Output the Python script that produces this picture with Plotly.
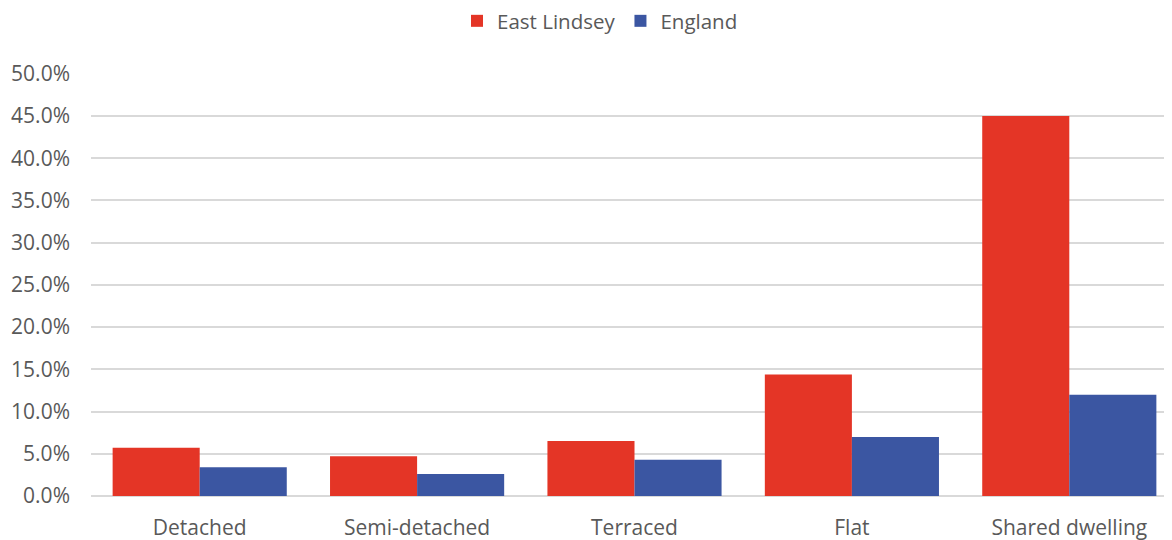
import plotly.graph_objects as go

categories = ["Detached", "Semi-detached", "Terraced", "Flat", "Shared dwelling"]
east_lindsey = [0.057, 0.047, 0.065, 0.144, 0.450]
england = [0.034, 0.026, 0.043, 0.070, 0.120]
tick_vals = [0, 0.05, 0.10, 0.15, 0.20, 0.25, 0.30, 0.35, 0.40, 0.45, 0.50]
tick_text = ["0.0%", "5.0%", "10.0%", "15.0%", "20.0%", "25.0%", "30.0%", "35.0%", "40.0%", "45.0%", "50.0%"]

font_family = "Open Sans, Liberation Sans, sans-serif"
grey = "#595959"

# page body has an 8px default margin; the plot area runs slightly past the right window edge
W, H = 1170, 532

fig = go.Figure()
fig.add_trace(go.Bar(name="East Lindsey", x=categories, y=east_lindsey,
                     marker=dict(color="#E43526", line=dict(width=0))))
fig.add_trace(go.Bar(name="England", x=categories, y=england,
                     marker=dict(color="#3B56A2", line=dict(width=0))))

fig.update_layout(
    width=W, height=H,
    barmode="group", bargap=0.199, bargroupgap=0,
    plot_bgcolor="white", paper_bgcolor="white",
    margin=dict(l=83, r=0, t=65, b=44, autoexpand=False),
    font=dict(family=font_family, size=21, color=grey),
    legend=dict(orientation="h", x=(595 - 3) / W, xanchor="center", xref="container",
                y=1 - 13 / H, yanchor="middle", yref="container",
                font=dict(size=20.5, color=grey), itemwidth=30, traceorder="normal"),
    showlegend=True,
)
fig.update_yaxes(range=[0, 0.501], tickvals=tick_vals, ticktext=tick_text,
                 automargin=False,
                 showgrid=True, gridcolor="#D9D9D9", gridwidth=1.5,
                 zeroline=True, zerolinecolor="#D9D9D9", zerolinewidth=1.5,
                 showline=False, ticks="", ticklabelstandoff=20,
                 tickfont=dict(size=21, color=grey))
fig.update_xaxes(showline=False, ticks="", showgrid=False, automargin=False,
                 tickfont=dict(size=21, color=grey), ticklabelstandoff=17)

fig.write_html("out.html")
